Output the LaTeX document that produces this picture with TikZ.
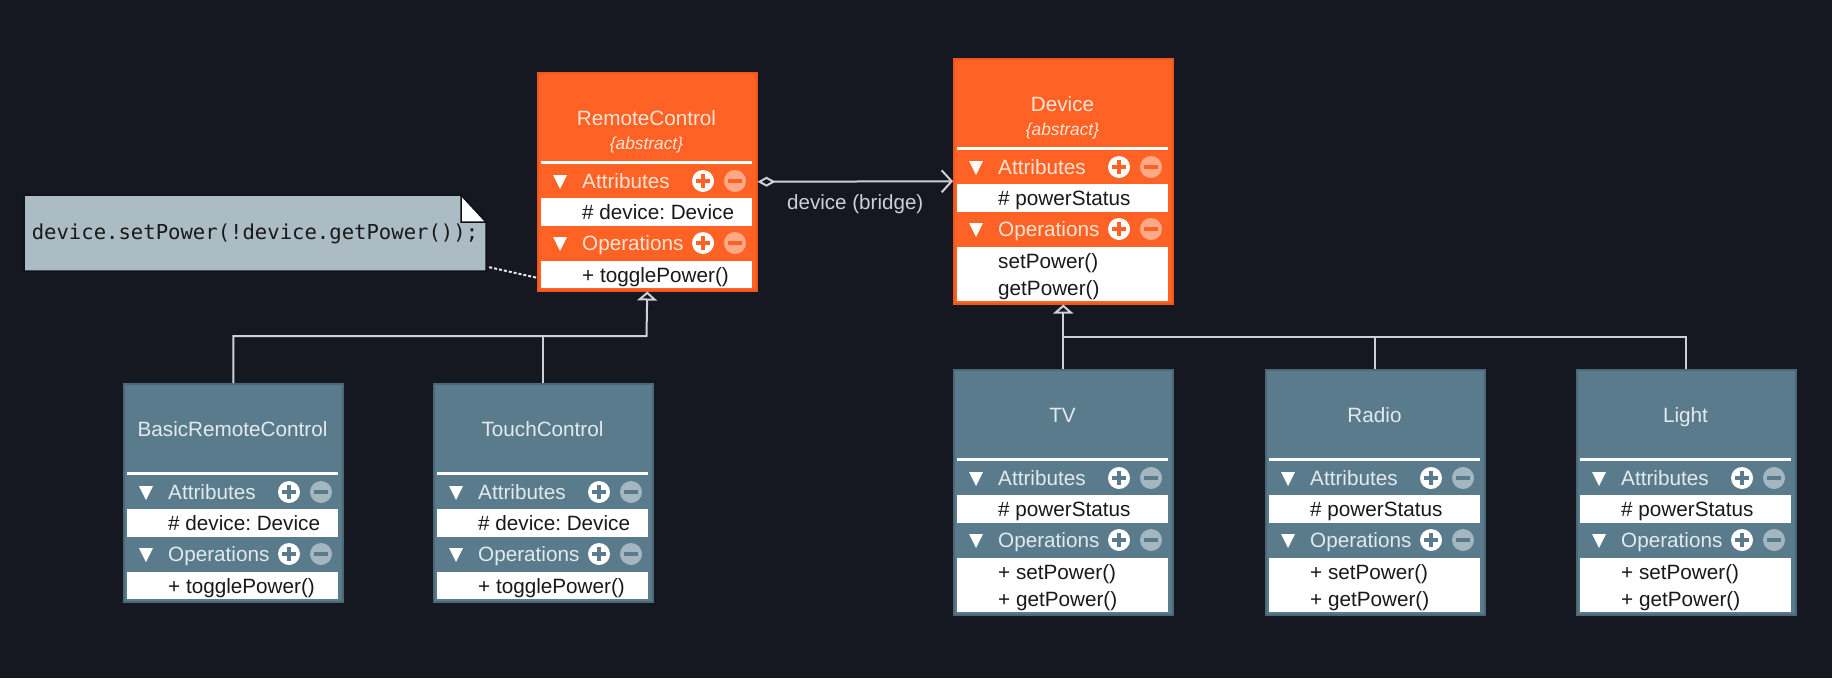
\documentclass[tikz,border=0pt]{standalone}
\usepackage{fontspec}
\setmainfont{Liberation Sans}
\newfontfamily\codefont{DejaVu Sans Mono}
\usetikzlibrary{arrows.meta}
\frenchspacing

\definecolor{bg}{HTML}{151821}
\definecolor{orangefill}{HTML}{FF6224}
\definecolor{orangeedge}{HTML}{F0561A}
\definecolor{orangetext}{HTML}{FFE4D6}
\definecolor{orangeminus}{HTML}{FFA986}
\definecolor{tealfill}{HTML}{5A7B8B}
\definecolor{tealedge}{HTML}{4C6876}
\definecolor{tealtext}{HTML}{E3EAEE}
\definecolor{tealminus}{HTML}{A4B6BF}
\definecolor{linecol}{HTML}{CDD0D6}
\definecolor{notefill}{HTML}{ABBCC4}

% #1 name, #2 left, #3 top, #4 colour, #5 title, #6 attribute, #7 #8 operations, #9 number of operations
\newcommand{\umlclass}[9]{%
  \node[classbox, fill=#4fill, draw=#4edge, minimum height={191pt+27pt*#9}] (#1) at (#2,#3) {};
  \node[classtitle, text=#4text] (#1-name) at (#2+109.5,#3+53) {#5};
  \draw[sepline] (#2+4,#3+90) -- (#2+215,#3+90);
  \fill[white] (#2+4,#3+126) rectangle (#2+215,#3+154);
  \fill[white] (#2+4,#3+189) rectangle (#2+215,#3+189+27*#9);
  \foreach \hy/\hname in {109/Attributes, 171/Operations} {
    \fill[white] (#2+16,#3+\hy-6) -- (#2+30,#3+\hy-6) -- (#2+23,#3+\hy+8) -- cycle;
    \node[sectext, text=#4text] (#1-\hname) at (#2+45,#3+\hy+7.5) {\hname};
    \fill[white] (#2+166,#3+\hy) circle[radius=11pt];
    \draw[iconline, #4fill] (#2+159,#3+\hy) -- (#2+173,#3+\hy) (#2+166,#3+\hy-7) -- (#2+166,#3+\hy+7);
    \fill[#4minus] (#2+198,#3+\hy) circle[radius=11pt];
    \draw[iconline, #4fill] (#2+191,#3+\hy) -- (#2+205,#3+\hy);
  }
  \node[member] (#1-attr) at (#2+45,#3+147.5) {#6};
  \node[member] (#1-op1) at (#2+45,#3+210.5) {#7};
  \node[member] (#1-op2) at (#2+45,#3+237.5) {#8};
}

\begin{document}
\begin{tikzpicture}[x=1pt, y=-1pt]
    % Set up styles for the classes
    \tikzstyle{classbox} = [anchor=north west, minimum width=219pt, line width=1.5pt, inner sep=0pt]
    \tikzstyle{classtitle} = [anchor=base, inner sep=0pt, font=\fontsize{20.7}{25}\selectfont]
    \tikzstyle{stereo} = [anchor=base, inner sep=0pt, text=orangetext, font=\fontsize{17.3}{20}\selectfont\itshape]
    \tikzstyle{sectext} = [anchor=base west, inner sep=0pt, font=\fontsize{20.7}{25}\selectfont]
    \tikzstyle{member} = [anchor=base west, inner sep=0pt, text=black!90, font=\fontsize{20.7}{25}\selectfont]
    \tikzstyle{sepline} = [white, line width=3pt]
    \tikzstyle{iconline} = [line width=3.5pt]
    % Set up styles for the connectors
    \tikzstyle{plainline} = [linecol, line width=2pt]
    \tikzstyle{genline} = [plainline, -{Triangle[length=9pt, width=20pt, fill=bg]}]
    \tikzstyle{assoc} = [plainline, {Diamond[length=18pt, width=10pt, fill=bg]}-{Straight Barb[length=10pt, width=22pt]}]
    \tikzstyle{edgelabel} = [text=linecol, font=\fontsize{20.6}{25}\selectfont]
    \tikzstyle{noteline} = [white!90!bg, line width=2pt, dash pattern=on 3pt off 2pt]
    \tikzstyle{codetext} = [minimum width=462pt, minimum height=76pt, inner sep=0pt, text=black!90, font=\codefont\fontsize{20.6}{25}\selectfont]

    % Background
    \fill[bg] (0,0) rectangle (1832,678);
    \useasboundingbox (0,0) rectangle (1832,678);

    % Draw the abstract classes
    \umlclass{rc}{537}{72}{orange}{RemoteControl}{\# device: Device}{+ togglePower()}{}{1}
    \node[stereo] (rc-abs) at (646.5,149) {\{abstract\}};
    \umlclass{dev}{953}{58}{orange}{Device}{\# powerStatus}{setPower()}{getPower()}{2}
    \node[stereo] (dev-abs) at (1062.5,135) {\{abstract\}};

    % Draw the concrete classes
    \umlclass{brc}{123}{383}{teal}{BasicRemoteControl}{\# device: Device}{+ togglePower()}{}{1}
    \umlclass{tc}{433}{383}{teal}{TouchControl}{\# device: Device}{+ togglePower()}{}{1}
    \umlclass{tv}{953}{369}{teal}{TV}{\# powerStatus}{+ setPower()}{+ getPower()}{2}
    \umlclass{radio}{1265}{369}{teal}{Radio}{\# powerStatus}{+ setPower()}{+ getPower()}{2}
    \umlclass{light}{1576}{369}{teal}{Light}{\# powerStatus}{+ setPower()}{+ getPower()}{2}

    % Draw the note
    \filldraw[fill=notefill, draw=bg!70!black, line width=1.5pt] (24,195) -- (461,195) -- (486,222) -- (486,271) -- (24,271) -- cycle;
    \filldraw[fill=white, draw=bg!70!black, line width=1.5pt] (461,195) -- (461,222) -- (486,222) -- cycle;
    \node[codetext] (note) at (255,234) {device.setPower(!device.getPower());};
    \draw[noteline] ([xshift=3pt, yshift=5pt]note.south east) -- ([yshift=-96pt]rc.west);

    % The bridge
    \draw[assoc] (rc.east) -- (dev.west)
        node[midway, below=9pt, edgelabel] (bridge) {device (bridge)};

    % Inheritance
    \coordinate (rc-join) at (646.5,336);
    \draw[genline] (brc.north) |- (rc-join) -- (rc.south);
    \draw[plainline] (tc.north) -- (tc.north |- rc-join);
    \coordinate (dev-join) at (1062.5,337);
    \draw[genline] (tv.north) -- (dev.south);
    \draw[plainline] (radio.north) -- (radio.north |- dev-join);
    \draw[plainline] (light.north) |- (dev-join);

\end{tikzpicture}
\end{document}
